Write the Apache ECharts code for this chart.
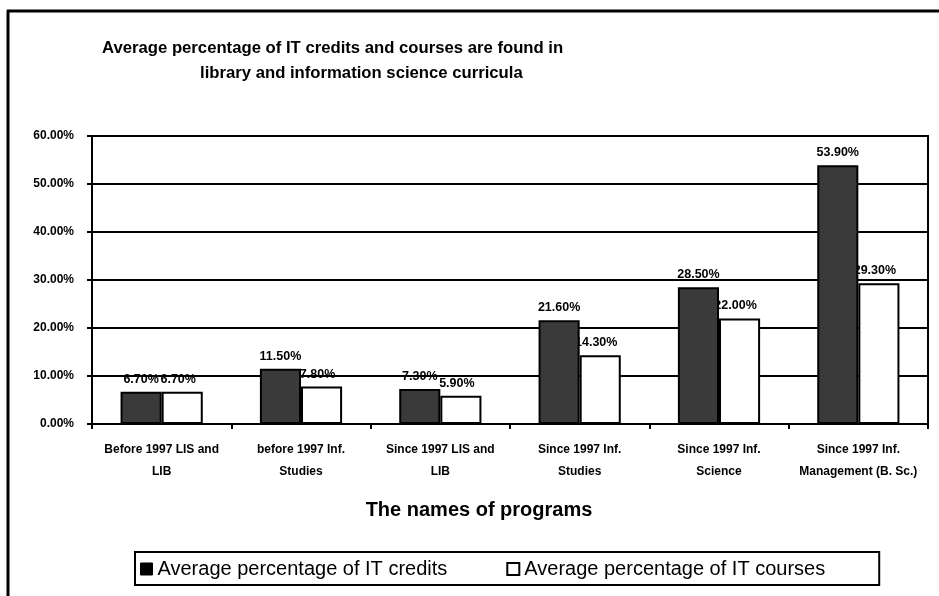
<!DOCTYPE html>
<html>
<head>
<meta charset="utf-8">
<script src="https://cdn.jsdelivr.net/npm/echarts@6/dist/echarts.min.js"></script>
<style>
  html, body { margin: 0; padding: 0; background: #fff; }
  #chart { width: 939px; height: 596px; }
</style>
</head>
<body>
<div id="chart"></div>
<script>
var programs = [
    'Before 1997 LIS and\nLIB',
    'before 1997 Inf.\nStudies',
    'Since 1997 LIS and\nLIB',
    'Since 1997 Inf.\nStudies',
    'Since 1997 Inf.\nScience',
    'Since 1997 Inf.\nManagement (B. Sc.)'
];
var itCredits = [6.7, 11.5, 7.3, 21.6, 28.5, 53.9];
var itCourses = [6.7, 7.8, 5.9, 14.3, 22.0, 29.3];

var font = "'Liberation Sans', Arial, sans-serif";
var myChart = echarts.init(document.getElementById('chart'));

function pct(v) {
    return Number(v).toFixed(2) + '%';
}

var option = {
    backgroundColor: '#fff',
    animation: false,
    textStyle: { fontFamily: font },
    title: [{
        text: 'Average percentage of IT credits and courses are found in',
        left: 97,
        top: 35,
        textStyle: { fontFamily: font, fontSize: 16.7, fontWeight: 'bold', color: '#000' }
    }, {
        text: 'library and information science curricula',
        left: 195,
        top: 60,
        textStyle: { fontFamily: font, fontSize: 16.7, fontWeight: 'bold', color: '#000' }
    }],
    legend: {
        left: 135,
        top: 552,
        orient: 'horizontal',
        padding: [7, 54, 6, 5],
        itemGap: 59,
        itemWidth: 12,
        itemHeight: 12,
        borderColor: '#000',
        borderWidth: 2,
        textStyle: { fontFamily: font, fontSize: 20, color: '#000' },
        data: [{
            name: 'Average percentage of IT credits',
            icon: 'rect',
            itemStyle: { color: '#000', borderColor: '#000', borderWidth: 1 }
        }, {
            name: 'Average percentage of IT courses',
            icon: 'rect',
            itemStyle: { color: '#fff', borderColor: '#000', borderWidth: 2 }
        }]
    },
    grid: {
        left: 92,
        right: 11,
        top: 136,
        bottom: 172,
        show: true,
        borderColor: '#000',
        borderWidth: 2,
        backgroundColor: '#fff'
    },
    xAxis: {
        type: 'category',
        data: programs,
        name: 'The names of programs',
        nameLocation: 'middle',
        nameGap: 76,
        nameTextStyle: {
            fontFamily: font, fontSize: 20, fontWeight: 'bold', color: '#000',
            padding: [0, 62, 0, 0]
        },
        axisLine: { lineStyle: { color: '#000', width: 2 } },
        axisTick: { show: true, length: 5, lineStyle: { color: '#000', width: 2 } },
        axisLabel: {
            interval: 0,
            margin: 15,
            lineHeight: 22,
            fontFamily: font,
            fontSize: 12,
            fontWeight: 'bold',
            color: '#000'
        }
    },
    yAxis: {
        type: 'value',
        min: 0,
        max: 60,
        interval: 10,
        axisLine: { show: true, lineStyle: { color: '#000', width: 2 } },
        axisTick: { show: true, length: 5, lineStyle: { color: '#000', width: 2 } },
        splitLine: { show: true, lineStyle: { color: '#000', width: 2 } },
        axisLabel: {
            margin: 18,
            fontFamily: font,
            fontSize: 12,
            fontWeight: 'bold',
            color: '#000',
            formatter: pct
        }
    },
    series: [{
        name: 'Average percentage of IT credits',
        type: 'bar',
        z: 4,
        barGap: '0%',
        barCategoryGap: '41%',
        data: itCredits,
        itemStyle: { color: '#3a3a3a', borderColor: '#000', borderWidth: 2 },
        label: {
            show: true,
            position: 'top',
            distance: 6,
            fontFamily: font,
            fontSize: 12.5,
            fontWeight: 'bold',
            color: '#000',
            formatter: function (p) { return pct(p.value); }
        }
    }, {
        name: 'Average percentage of IT courses',
        type: 'bar',
        z: 2,
        barGap: '0%',
        barCategoryGap: '41%',
        data: itCourses,
        itemStyle: { color: '#fff', borderColor: '#000', borderWidth: 2 },
        label: {
            show: true,
            position: 'top',
            distance: 6,
            offset: [-4, 0],
            fontFamily: font,
            fontSize: 12.5,
            fontWeight: 'bold',
            color: '#000',
            formatter: function (p) { return pct(p.value); }
        }
    }],
    graphic: [{
        type: 'line',
        shape: { x1: 7, y1: 11, x2: 939, y2: 11 },
        style: { stroke: '#000', lineWidth: 3 }
    }, {
        type: 'line',
        shape: { x1: 8, y1: 10, x2: 8, y2: 596 },
        style: { stroke: '#000', lineWidth: 3 }
    }]
};

myChart.setOption(option);
</script>
</body>
</html>
